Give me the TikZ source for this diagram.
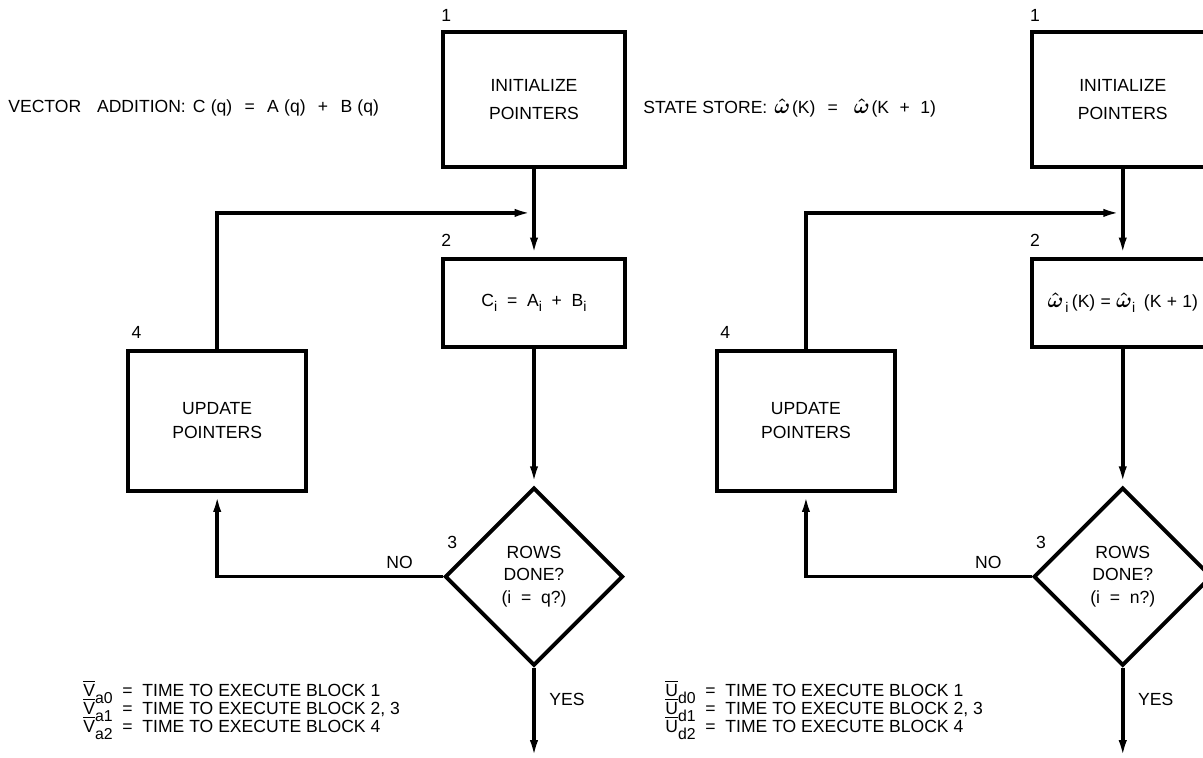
\documentclass[tikz,border=0pt]{standalone}
\usepackage{amsmath}
\usepackage{fontspec}
\setmainfont{Liberation Sans}
\usetikzlibrary{positioning,shapes.geometric,arrows.meta,calc}

\newcommand{\lsub}[1]{\raisebox{-2.5pt}{\footnotesize #1}}
\newcommand{\tbar}[2]{$\overline{\text{#1}}$\raisebox{-4pt}{\small #2}}
\newcommand{\whom}{{\large$\boldsymbol{\hat{\omega}}$}}

\begin{document}
\begin{tikzpicture}[
        x=0.02cm,
        y=-0.02cm,
        every node/.style={font=\fontsize{10}{12}\selectfont},
        block/.style={
            rectangle,
            draw=black,
            line width=2.2pt,
            align=center,
            minimum width=3.64cm,
            inner sep=2pt
        },
        decision/.style={
            diamond,
            aspect=1,
            draw=black,
            line width=2.2pt,
            align=center,
            minimum width=3.56cm,
            minimum height=3.56cm,
            inner sep=0pt
        },
        num/.style={inner sep=0pt},
        title/.style={inner sep=0pt, anchor=west},
        legend/.style={inner sep=0pt, anchor=base west},
        arrow/.style={
            line width=2pt,
            -{Latex[length=11pt,width=4.5pt]}
        }
    ]

    \useasboundingbox (0,0) rectangle (1203,757);
    \clip (0,0) rectangle (1203,757);

    % vector addition
    \node[title] (vecadd) at (8,108)
    {VECTOR\hspace{9pt}ADDITION:\hspace{4pt}C\hspace{3pt}(q)\hspace{7pt}=\hspace{7pt}A\hspace{3pt}(q)\hspace{7pt}+\hspace{7pt}B\hspace{3pt}(q)};

    \node[block, minimum height=2.7cm] (init) at (534,99.5)
    {INITIALIZE\\[4pt]POINTERS};

    \node[block, minimum height=1.76cm, below=1.76cm of init] (sum)
    {C\lsub{i}~~=~~A\lsub{i}~~+~~B\lsub{i}};

    \node[decision, below=2.74cm of sum] (rows)
    {ROWS\\[1pt]DONE?\\[1pt](i~~=~~q?)};

    \node[block, minimum width=3.56cm, minimum height=2.8cm,
        below left=0pt and 2.66cm of sum.south west] (update)
    {UPDATE\\[2pt]POINTERS};

    \coordinate (join) at ($(init.south)!0.5!(sum.north)$);
    \coordinate[below=1.84cm of rows.south] (out);

    % block numbers
    \node[num, above right=0.16cm and 0pt of init.north west] (n1) {1};
    \node[num, above right=0.2cm and 0pt of sum.north west] (n2) {2};
    \node[num, above right=0.56cm and 0.08cm of rows.west] (n3) {3};
    \node[num, above right=0.2cm and 0.1cm of update.north west] (n4) {4};

    \node[num, above left=0.16cm and 0.6cm of rows.west] (no) {NO};
    \node[num, below right=0.5cm and 0.3cm of rows.south] (yes) {YES};

    % times
    \node[legend] (va0) at (83,696)
    {\tbar{V}{a0}~~=~~TIME TO EXECUTE BLOCK 1};
    \node[legend, below=0.36cm of va0.base west, anchor=base west] (va1)
    {\tbar{V}{a1}~~=~~TIME TO EXECUTE BLOCK 2, 3};
    \node[legend, below=0.36cm of va1.base west, anchor=base west] (va2)
    {\tbar{V}{a2}~~=~~TIME TO EXECUTE BLOCK 4};

    % arrows
    \draw[arrow] (init) -- (sum);
    \draw[arrow] (sum) -- (rows);
    \draw[arrow] (update.north) |- (join);
    \draw[arrow] (rows.west) -| (update.south);
    \draw[arrow] (rows.south) -- (out);

    % state store
    \node[title] (store) at (643,108)
    {STATE STORE:\hspace{4pt}\whom\hspace{1pt}(K)\hspace{7pt}=\hspace{9pt}\whom\hspace{1pt}(K\hspace{6pt}+\hspace{6pt}1)};

    \node[block, minimum height=2.7cm, right=8.06cm of init] (sinit)
    {INITIALIZE\\[4pt]POINTERS};

    \node[block, minimum height=1.76cm, below=1.76cm of sinit] (ssum)
    {\whom\hspace{1pt}\lsub{i}\hspace{2pt}(K)\hspace{3pt}=\hspace{3pt}\whom\lsub{i}\hspace{5pt}(K\hspace{3pt}+\hspace{3pt}1)};

    \node[decision, below=2.74cm of ssum] (srows)
    {ROWS\\[1pt]DONE?\\[1pt](i~~=~~n?)};

    \node[block, minimum width=3.56cm, minimum height=2.8cm,
        below left=0pt and 2.66cm of ssum.south west] (supdate)
    {UPDATE\\[2pt]POINTERS};

    \coordinate (sjoin) at ($(sinit.south)!0.5!(ssum.north)$);
    \coordinate[below=1.84cm of srows.south] (sout);

    \node[num, above right=0.16cm and 0pt of sinit.north west] (s1) {1};
    \node[num, above right=0.2cm and 0pt of ssum.north west] (s2) {2};
    \node[num, above right=0.56cm and 0.08cm of srows.west] (s3) {3};
    \node[num, above right=0.2cm and 0.1cm of supdate.north west] (s4) {4};

    \node[num, above left=0.16cm and 0.6cm of srows.west] (sno) {NO};
    \node[num, below right=0.5cm and 0.3cm of srows.south] (syes) {YES};

    \node[legend] (ud0) at (665,696)
    {\tbar{U}{d0}~~=~~TIME TO EXECUTE BLOCK 1};
    \node[legend, below=0.36cm of ud0.base west, anchor=base west] (ud1)
    {\tbar{U}{d1}~~=~~TIME TO EXECUTE BLOCK 2, 3};
    \node[legend, below=0.36cm of ud1.base west, anchor=base west] (ud2)
    {\tbar{U}{d2}~~=~~TIME TO EXECUTE BLOCK 4};

    \draw[arrow] (sinit) -- (ssum);
    \draw[arrow] (ssum) -- (srows);
    \draw[arrow] (supdate.north) |- (sjoin);
    \draw[arrow] (srows.west) -| (supdate.south);
    \draw[arrow] (srows.south) -- (sout);

\end{tikzpicture}
\end{document}
